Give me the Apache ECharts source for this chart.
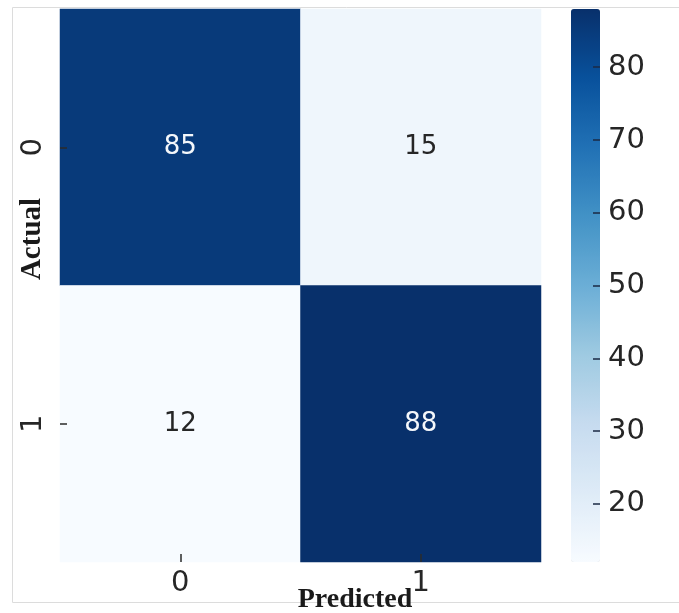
<!DOCTYPE html>
<html>
<head>
<meta charset="utf-8">
<script src="https://cdn.jsdelivr.net/npm/echarts@6/dist/echarts.min.js"></script>
<style>
  html, body { margin: 0; padding: 0; background: #fff; }
  #chart { width: 679px; height: 613px; }
</style>
</head>
<body>
<div id="chart"></div>
<script>
// confusion matrix values
const predictedLabels = ['0', '1'];
const actualLabels = ['0', '1'];
const actual0Row = [85, 15];
const actual1Row = [12, 88];
const colorbarTicks = [20, 30, 40, 50, 60, 70, 80];
const valueMin = 12;
const valueMax = 88;

// matplotlib "Blues"
const blues = ['#f7fbff', '#deebf7', '#c6dbef', '#9ecae1', '#6baed6', '#4292c6', '#2171b5', '#08519c', '#08306b'];

const rows = [actual0Row, actual1Row];
const cells = [];
rows.forEach((row, yi) => {
  row.forEach((v, xi) => {
    cells.push({
      value: [xi, yi, v],
      label: { color: v > 50 ? '#f4f7fb' : '#262626' }
    });
  });
});

const chart = echarts.init(document.getElementById('chart'));

const option = {
  animation: false,
  grid: [
    { left: 60, right: 138, top: 9, bottom: 51, outerBoundsMode: 'none' },
    { left: 571, width: 29, top: 9, height: 553, outerBoundsMode: 'none' }
  ],
  xAxis: [
    {
      type: 'category',
      data: predictedLabels,
      z: 10,
      axisLine: { show: false },
      axisTick: { show: true, alignWithLabel: true, inside: true, length: 8, lineStyle: { color: '#2b2b2b', width: 1.5 } },
      axisLabel: { fontFamily: 'DejaVu Sans', fontSize: 29, color: '#262626', margin: 7 },
      splitLine: { show: false }
    },
    { gridIndex: 1, type: 'value', show: false, min: 0, max: 1 }
  ],
  yAxis: [
    {
      type: 'category',
      data: actualLabels,
      inverse: true,
      z: 10,
      axisLine: { show: false },
      axisTick: { show: true, alignWithLabel: true, inside: true, length: 7, lineStyle: { color: '#2b2b2b', width: 1.5 } },
      axisLabel: { fontFamily: 'DejaVu Sans', fontSize: 29, color: '#262626', rotate: 90, margin: 12 },
      splitLine: { show: false }
    },
    {
      // colorbar scale, ticks over the bar's right edge
      gridIndex: 1,
      type: 'value',
      position: 'right',
      z: 10,
      min: valueMin,
      max: valueMax,
      axisLine: { show: false, onZero: false },
      splitLine: { show: false },
      axisTick: {
        show: true,
        inside: true,
        length: 7,
        customValues: colorbarTicks,
        lineStyle: { color: '#1b2a44', width: 1.5 }
      },
      axisLabel: {
        customValues: colorbarTicks,
        fontFamily: 'DejaVu Sans',
        fontSize: 29,
        color: '#262626',
        margin: 8
      }
    }
  ],
  visualMap: {
    type: 'continuous',
    min: valueMin,
    max: valueMax,
    calculable: false,
    seriesIndex: 0,
    left: 571,
    top: 9,
    padding: 0,
    itemWidth: 29,
    itemHeight: 553,
    text: ['', ''],
    showLabel: false,
    inRange: { color: blues }
  },
  graphic: [
    {
      type: 'rect',
      z: -10,
      shape: { x: 12.5, y: 7.5, width: 700, height: 595 },
      style: { fill: 'none', stroke: '#dcdcdc', lineWidth: 1 }
    },
    {
      type: 'text',
      x: 33,
      y: 239,
      rotation: Math.PI / 2,
      style: {
        text: 'Actual',
        font: 'bold 29px "Liberation Serif", "DejaVu Serif", serif',
        fill: '#1a1a1a',
        align: 'center',
        verticalAlign: 'middle'
      }
    },
    {
      type: 'text',
      x: 355,
      y: 600,
      style: {
        text: 'Predicted',
        font: 'bold 28px "Liberation Serif", "DejaVu Serif", serif',
        fill: '#1a1a1a',
        align: 'center',
        verticalAlign: 'middle'
      }
    }
  ],
  series: [
    {
      type: 'heatmap',
      xAxisIndex: 0,
      yAxisIndex: 0,
      z: 1,
      data: cells,
      label: {
        show: true,
        fontFamily: 'DejaVu Sans',
        fontSize: 26,
        formatter: p => String(p.value[2])
      },
      itemStyle: { borderWidth: 0 },
      emphasis: { disabled: true }
    }
  ]
};

chart.setOption(option);
</script>
</body>
</html>
